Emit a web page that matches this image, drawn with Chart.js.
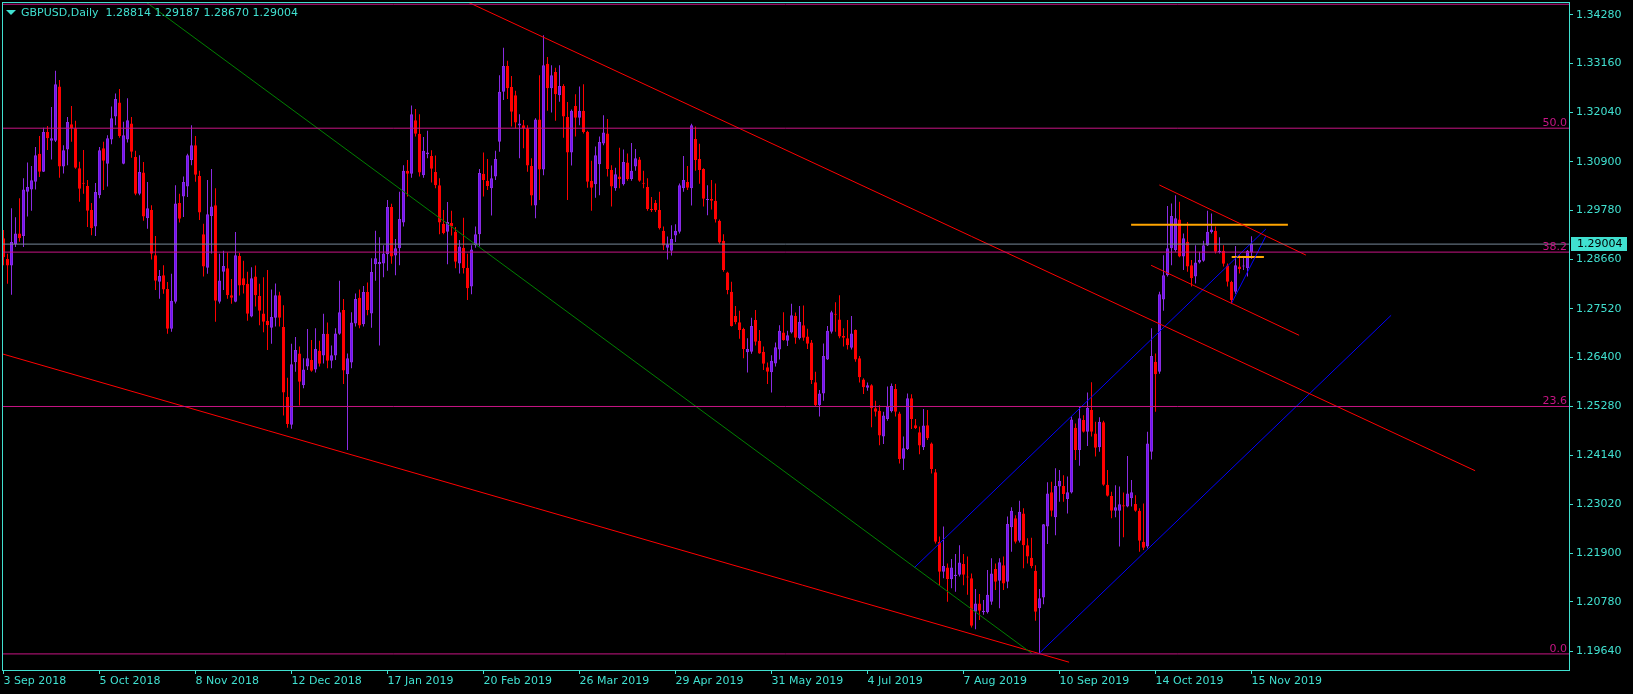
<!DOCTYPE html>
<html>
<head>
<meta charset="utf-8">
<title>GBPUSD,Daily</title>
<script src="https://cdn.jsdelivr.net/npm/chart.js@4.4.1/dist/chart.umd.min.js"></script>
<style>
  html, body { margin: 0; padding: 0; background: #000; }
  canvas { display: block; background: #000; }
</style>
</head>
<body>
<canvas id="chart" width="1633" height="694"></canvas>
<script>
const symbol = "GBPUSD,Daily";

// date labels, one every 24 daily bars starting 3 Sep 2018
const tickLabels = ["3 Sep 2018", "5 Oct 2018", "8 Nov 2018", "12 Dec 2018", "17 Jan 2019", "20 Feb 2019",
  "26 Mar 2019", "29 Apr 2019", "31 May 2019", "4 Jul 2019", "7 Aug 2019", "10 Sep 2019", "14 Oct 2019", "15 Nov 2019"];
const tickStep = 24;

const priceTicks = [1.19640, 1.20780, 1.21900, 1.23020, 1.24140, 1.25280, 1.26400,
  1.27520, 1.28660, 1.29780, 1.30900, 1.32040, 1.33160, 1.34280];

const opens = [
  1.2914, 1.2866, 1.2851, 1.2900, 1.2925, 1.2919, 1.3021, 1.3026, 1.3044, 1.3108,
  1.3067, 1.3158, 1.3138, 1.3138, 1.3263, 1.3079, 1.3118, 1.3176, 1.3167, 1.3075,
  1.3041, 1.3034, 1.2979, 1.2941, 1.3013, 1.3121, 1.3085, 1.3141, 1.3194, 1.3226,
  1.3085, 1.3141, 1.3178, 1.3101, 1.3016, 1.3065, 1.2960, 1.2979, 1.2875, 1.2814,
  1.2829, 1.2797, 1.2706, 1.2768, 1.2995, 1.3010, 1.3033, 1.3094, 1.3128, 1.3057,
  1.2923, 1.2846, 1.2965, 1.2990, 1.2768, 1.2837, 1.2845, 1.2783, 1.2768, 1.2873,
  1.2822, 1.2809, 1.2734, 1.2826, 1.2781, 1.2741, 1.2724, 1.2708, 1.2731, 1.2783,
  1.2710, 1.2549, 1.2485, 1.2629, 1.2649, 1.2576, 1.2619, 1.2634, 1.2612, 1.2655,
  1.2644, 1.2694, 1.2632, 1.2644, 1.2694, 1.2749, 1.2601, 1.2628, 1.2718, 1.2777,
  1.2716, 1.2790, 1.2741, 1.2854, 1.2854, 1.2856, 1.2877, 1.2986, 1.2874, 1.2891,
  1.2950, 1.3069, 1.3062, 1.3185, 1.3154, 1.3059, 1.3107, 1.3103, 1.3066, 1.3036,
  1.2947, 1.2929, 1.2949, 1.2929, 1.2856, 1.2892, 1.2846, 1.2803, 1.2898, 1.2923,
  1.3062, 1.3046, 1.3029, 1.3056, 1.3136, 1.3251, 1.3310, 1.3262, 1.3243, 1.3173,
  1.3174, 1.3167, 1.3080, 1.2989, 1.3187, 1.3072, 1.3315, 1.3259, 1.3296, 1.3243,
  1.3264, 1.3193, 1.3111, 1.3218, 1.3191, 1.3207, 1.3159, 1.3046, 1.3038, 1.3084,
  1.3132, 1.3155, 1.3071, 1.3029, 1.3056, 1.3038, 1.3088, 1.3050, 1.3079, 1.3095,
  1.3041, 1.3032, 1.2981, 1.2995, 1.2979, 1.2931, 1.2892, 1.2885, 1.2920, 1.2929,
  1.3029, 1.3043, 1.3029, 1.3142, 1.3096, 1.3073, 1.3002, 1.3004, 1.3000, 1.2954,
  1.2908, 1.2835, 1.2791, 1.2735, 1.2721, 1.2705, 1.2652, 1.2653, 1.2726, 1.2678,
  1.2653, 1.2617, 1.2606, 1.2626, 1.2658, 1.2697, 1.2678, 1.2697, 1.2735, 1.2684,
  1.2714, 1.2688, 1.2674, 1.2583, 1.2530, 1.2557, 1.2635, 1.2699, 1.2740, 1.2727,
  1.2689, 1.2684, 1.2662, 1.2703, 1.2638, 1.2589, 1.2570, 1.2576, 1.2523, 1.2517,
  1.2458, 1.2498, 1.2516, 1.2567, 1.2511, 1.2407, 1.2429, 1.2546, 1.2484, 1.2468,
  1.2433, 1.2484, 1.2442, 1.2376, 1.2216, 1.2147, 1.2157, 1.2130, 1.2137, 1.2140,
  1.2165, 1.2136, 1.2132, 1.2055, 1.2074, 1.2054, 1.2054, 1.2078, 1.2153, 1.2126,
  1.2162, 1.2124, 1.2249, 1.2270, 1.2218, 1.2281, 1.2208, 1.2179, 1.2149, 1.2063,
  1.2088, 1.2251, 1.2330, 1.2272, 1.2343, 1.2344, 1.2314, 1.2329, 1.2478, 1.2427,
  1.2496, 1.2469, 1.2519, 1.2465, 1.2433, 1.2491, 1.2347, 1.2321, 1.2287, 1.2287,
  1.2300, 1.2297, 1.2316, 1.2303, 1.2287, 1.2216, 1.2205, 1.2423, 1.2630, 1.2607,
  1.2773, 1.2829, 1.2891, 1.2887, 1.2957, 1.2872, 1.2906, 1.2852, 1.2826, 1.2858,
  1.2862, 1.2897, 1.2928, 1.2931, 1.2882, 1.2885, 1.2851, 1.2813, 1.2791, 1.2849,
  1.2849, 1.2845, 1.28814
];
const highs = [
  1.2933, 1.2878, 1.2983, 1.2962, 1.3006, 1.3052, 1.3088, 1.3080, 1.3124, 1.3149,
  1.3168, 1.3172, 1.3216, 1.3299, 1.3278, 1.3128, 1.3193, 1.3218, 1.3184, 1.3090,
  1.3117, 1.3048, 1.2995, 1.3041, 1.3124, 1.3136, 1.3151, 1.3217, 1.3247, 1.3257,
  1.3182, 1.3236, 1.3193, 1.3115, 1.3105, 1.3089, 1.3043, 1.2990, 1.2919, 1.2841,
  1.2852, 1.2813, 1.2832, 1.3036, 1.3016, 1.3056, 1.3108, 1.3174, 1.3149, 1.3069,
  1.2947, 1.3048, 1.3073, 1.3029, 1.2878, 1.2885, 1.2881, 1.2820, 1.2928, 1.2880,
  1.2862, 1.2837, 1.2847, 1.2851, 1.2809, 1.2824, 1.2841, 1.2796, 1.2810, 1.2791,
  1.2760, 1.2593, 1.2671, 1.2687, 1.2665, 1.2638, 1.2705, 1.2680, 1.2707, 1.2678,
  1.2740, 1.2720, 1.2667, 1.2707, 1.2816, 1.2774, 1.2649, 1.2744, 1.2787, 1.2796,
  1.2804, 1.2812, 1.2868, 1.2931, 1.2916, 1.2898, 1.3002, 1.2993, 1.2912, 1.3021,
  1.3082, 1.3094, 1.3219, 1.3211, 1.3199, 1.3147, 1.3161, 1.3116, 1.3104, 1.3052,
  1.2979, 1.2997, 1.2977, 1.2940, 1.2910, 1.2961, 1.2878, 1.2898, 1.2941, 1.3073,
  1.3111, 1.3096, 1.3081, 1.3115, 1.3289, 1.3352, 1.3322, 1.3287, 1.3253, 1.3199,
  1.3186, 1.3174, 1.3098, 1.3190, 1.3289, 1.3381, 1.3331, 1.3312, 1.3306, 1.3312,
  1.3268, 1.3227, 1.3210, 1.3245, 1.3263, 1.3268, 1.3161, 1.3092, 1.3125, 1.3148,
  1.3197, 1.3188, 1.3082, 1.3076, 1.3122, 1.3118, 1.3109, 1.3133, 1.3119, 1.3101,
  1.3069, 1.3052, 1.3009, 1.3002, 1.3021, 1.2941, 1.2918, 1.2944, 1.2946, 1.3040,
  1.3103, 1.3080, 1.3177, 1.3171, 1.3131, 1.3075, 1.3036, 1.3048, 1.3040, 1.2957,
  1.2923, 1.2837, 1.2814, 1.2758, 1.2747, 1.2708, 1.2684, 1.2731, 1.2749, 1.2703,
  1.2665, 1.2628, 1.2645, 1.2674, 1.2714, 1.2744, 1.2701, 1.2763, 1.2743, 1.2758,
  1.2759, 1.2706, 1.2680, 1.2607, 1.2565, 1.2672, 1.2712, 1.2747, 1.2767, 1.2783,
  1.2707, 1.2726, 1.2735, 1.2704, 1.2643, 1.2592, 1.2582, 1.2578, 1.2540, 1.2530,
  1.2515, 1.2573, 1.2580, 1.2579, 1.2515, 1.2458, 1.2557, 1.2555, 1.2498, 1.2481,
  1.2521, 1.2519, 1.2444, 1.2383, 1.2228, 1.2251, 1.2166, 1.2176, 1.2188, 1.2208,
  1.2188, 1.2182, 1.2143, 1.2107, 1.2096, 1.2082, 1.2151, 1.2178, 1.2166, 1.2178,
  1.2182, 1.2274, 1.2295, 1.2277, 1.2310, 1.2293, 1.2224, 1.2225, 1.2162, 1.2107,
  1.2257, 1.2353, 1.2354, 1.2385, 1.2381, 1.2369, 1.2366, 1.2504, 1.2488, 1.2527,
  1.2507, 1.2559, 1.2583, 1.2492, 1.2502, 1.2494, 1.2381, 1.2331, 1.2346, 1.2343,
  1.2329, 1.2413, 1.2358, 1.2323, 1.2293, 1.2304, 1.2469, 1.2707, 1.2649, 1.2791,
  1.2875, 1.2988, 1.2994, 1.3013, 1.2998, 1.2925, 1.2951, 1.2864, 1.2898, 1.2883,
  1.2908, 1.2977, 1.2971, 1.2941, 1.2916, 1.2898, 1.2856, 1.2816, 1.2896, 1.2875,
  1.2872, 1.2887, 1.29187
];
const lows = [
  1.2852, 1.2809, 1.2784, 1.2894, 1.2906, 1.2894, 1.2964, 1.2977, 1.3026, 1.3055,
  1.3066, 1.3117, 1.3095, 1.3135, 1.3053, 1.3063, 1.3082, 1.3136, 1.3074, 1.2998,
  1.3016, 1.2940, 1.2921, 1.2919, 1.3006, 1.3025, 1.3033, 1.3130, 1.3174, 1.3145,
  1.3084, 1.3134, 1.3099, 1.3013, 1.3013, 1.2954, 1.2936, 1.2865, 1.2795, 1.2775,
  1.2786, 1.2694, 1.2699, 1.2764, 1.2950, 1.2963, 1.3009, 1.3082, 1.3044, 1.2956,
  1.2826, 1.2832, 1.2879, 1.2722, 1.2764, 1.2795, 1.2775, 1.2763, 1.2767, 1.2782,
  1.2787, 1.2724, 1.2732, 1.2757, 1.2714, 1.2698, 1.2657, 1.2671, 1.2711, 1.2711,
  1.2506, 1.2478, 1.2476, 1.2607, 1.2529, 1.2569, 1.2611, 1.2607, 1.2605, 1.2619,
  1.2626, 1.2615, 1.2615, 1.2634, 1.2692, 1.2579, 1.2427, 1.2615, 1.2711, 1.2707,
  1.2711, 1.2737, 1.2708, 1.2816, 1.2667, 1.2824, 1.2839, 1.2855, 1.2829, 1.2852,
  1.2941, 1.3010, 1.3053, 1.3148, 1.3056, 1.3053, 1.3098, 1.3042, 1.3029, 1.2923,
  1.2923, 1.2854, 1.2920, 1.2845, 1.2833, 1.2833, 1.2772, 1.2785, 1.2892, 1.2895,
  1.3010, 1.3025, 1.2966, 1.3048, 1.3113, 1.3232, 1.3234, 1.3171, 1.3167, 1.3098,
  1.3121, 1.3067, 1.2989, 1.2960, 1.3002, 1.3059, 1.3207, 1.3203, 1.3184, 1.3228,
  1.3145, 1.3002, 1.3081, 1.3148, 1.3174, 1.3155, 1.3030, 1.2977, 1.3007, 1.3013,
  1.3128, 1.3056, 1.2987, 1.3023, 1.3029, 1.3035, 1.3046, 1.3046, 1.3069, 1.3044,
  1.3029, 1.2977, 1.2974, 1.2974, 1.2934, 1.2887, 1.2865, 1.2874, 1.2905, 1.2925,
  1.3021, 1.3025, 1.2989, 1.3069, 1.3039, 1.2987, 1.2967, 1.2980, 1.2950, 1.2901,
  1.2837, 1.2785, 1.2711, 1.2716, 1.2683, 1.2638, 1.2605, 1.2648, 1.2667, 1.2648,
  1.2611, 1.2579, 1.2559, 1.2619, 1.2635, 1.2678, 1.2666, 1.2695, 1.2671, 1.2681,
  1.2678, 1.2659, 1.2579, 1.2528, 1.2504, 1.2540, 1.2634, 1.2695, 1.2699, 1.2684,
  1.2665, 1.2658, 1.2658, 1.2630, 1.2582, 1.2556, 1.2563, 1.2479, 1.2504, 1.2438,
  1.2441, 1.2494, 1.2513, 1.2504, 1.2396, 1.2381, 1.2427, 1.2475, 1.2475, 1.2417,
  1.2427, 1.2450, 1.2373, 1.2212, 1.2116, 1.2132, 1.2078, 1.2109, 1.2101, 1.2136,
  1.2116, 1.2094, 1.2019, 1.2015, 1.2036, 1.2048, 1.2051, 1.2071, 1.2105, 1.2063,
  1.2105, 1.2109, 1.2193, 1.2212, 1.2214, 1.2155, 1.2166, 1.2155, 1.2034, 1.1959,
  1.2072, 1.2211, 1.2274, 1.2231, 1.2308, 1.2308, 1.2281, 1.2327, 1.2404, 1.2391,
  1.2467, 1.2436, 1.2458, 1.2412, 1.2423, 1.2345, 1.2320, 1.2270, 1.2272, 1.2205,
  1.2226, 1.2295, 1.2297, 1.2285, 1.2193, 1.2197, 1.2201, 1.2405, 1.2515, 1.2602,
  1.2747, 1.2826, 1.2852, 1.2883, 1.2870, 1.2841, 1.2837, 1.2803, 1.2810, 1.2856,
  1.2860, 1.2896, 1.2925, 1.2879, 1.2879, 1.2849, 1.2803, 1.2764, 1.2786, 1.2833,
  1.2841, 1.2826, 1.28670
];
const closes = [
  1.2870, 1.2851, 1.2905, 1.2925, 1.2914, 1.3026, 1.3032, 1.3047, 1.3105, 1.3067,
  1.3158, 1.3144, 1.3144, 1.3268, 1.3079, 1.3116, 1.3181, 1.3167, 1.3076, 1.3028,
  1.3039, 1.2977, 1.2937, 1.3020, 1.3116, 1.3092, 1.3144, 1.3190, 1.3234, 1.3149,
  1.3151, 1.3185, 1.3113, 1.3016, 1.3066, 1.2964, 1.2983, 1.2878, 1.2816, 1.2827,
  1.2796, 1.2706, 1.2770, 1.2994, 1.2959, 1.3043, 1.3105, 1.3128, 1.3060, 1.2973,
  1.2849, 1.2969, 1.2987, 1.2770, 1.2817, 1.2850, 1.2783, 1.2777, 1.2875, 1.2805,
  1.2806, 1.2740, 1.2822, 1.2783, 1.2747, 1.2722, 1.2714, 1.2733, 1.2783, 1.2731,
  1.2559, 1.2487, 1.2624, 1.2657, 1.2584, 1.2612, 1.2638, 1.2609, 1.2659, 1.2625,
  1.2694, 1.2632, 1.2645, 1.2695, 1.2744, 1.2610, 1.2638, 1.2720, 1.2774, 1.2713,
  1.2790, 1.2749, 1.2836, 1.2868, 1.2859, 1.2879, 1.2986, 1.2872, 1.2891, 1.2958,
  1.3069, 1.3062, 1.3199, 1.3154, 1.3065, 1.3115, 1.3111, 1.3074, 1.3036, 1.2950,
  1.2926, 1.2951, 1.2941, 1.2860, 1.2895, 1.2845, 1.2799, 1.2888, 1.2923, 1.3064,
  1.3048, 1.3034, 1.3052, 1.3096, 1.3251, 1.3310, 1.3259, 1.3205, 1.3180, 1.3178,
  1.3167, 1.3081, 1.3012, 1.3187, 1.3072, 1.3312, 1.3259, 1.3289, 1.3245, 1.3264,
  1.3194, 1.3111, 1.3207, 1.3191, 1.3207, 1.3158, 1.3044, 1.3030, 1.3105, 1.3135,
  1.3157, 1.3073, 1.3033, 1.3061, 1.3050, 1.3089, 1.3050, 1.3069, 1.3098, 1.3046,
  1.3039, 1.2981, 1.2978, 1.2978, 1.2937, 1.2897, 1.2900, 1.2912, 1.2931, 1.3036,
  1.3048, 1.3030, 1.3174, 1.3094, 1.3071, 1.3005, 1.3004, 1.3000, 1.2957, 1.2904,
  1.2841, 1.2795, 1.2712, 1.2721, 1.2703, 1.2659, 1.2659, 1.2712, 1.2676, 1.2649,
  1.2625, 1.2607, 1.2632, 1.2663, 1.2701, 1.2680, 1.2691, 1.2737, 1.2685, 1.2722,
  1.2685, 1.2671, 1.2588, 1.2530, 1.2557, 1.2643, 1.2701, 1.2744, 1.2738, 1.2688,
  1.2685, 1.2668, 1.2695, 1.2635, 1.2594, 1.2571, 1.2576, 1.2523, 1.2515, 1.2460,
  1.2506, 1.2527, 1.2574, 1.2515, 1.2406, 1.2431, 1.2546, 1.2498, 1.2477, 1.2437,
  1.2483, 1.2454, 1.2383, 1.2216, 1.2147, 1.2160, 1.2130, 1.2157, 1.2140, 1.2168,
  1.2140, 1.2134, 1.2023, 1.2074, 1.2057, 1.2057, 1.2094, 1.2143, 1.2124, 1.2169,
  1.2120, 1.2257, 1.2287, 1.2216, 1.2285, 1.2208, 1.2182, 1.2160, 1.2055, 1.2086,
  1.2256, 1.2327, 1.2287, 1.2344, 1.2356, 1.2326, 1.2330, 1.2497, 1.2427, 1.2500,
  1.2469, 1.2524, 1.2469, 1.2432, 1.2492, 1.2347, 1.2322, 1.2287, 1.2295, 1.2302,
  1.2297, 1.2327, 1.2330, 1.2287, 1.2218, 1.2202, 1.2442, 1.2643, 1.2601, 1.2785,
  1.2829, 1.2891, 1.2965, 1.2960, 1.2872, 1.2914, 1.2849, 1.2822, 1.2858, 1.2864,
  1.2898, 1.2929, 1.2934, 1.2883, 1.2885, 1.2855, 1.2814, 1.2772, 1.2852, 1.2843,
  1.2850, 1.2885, 1.29004
];

// fibonacci retracement levels
const fibLevels = ["0.0", "23.6", "38.2", "50.0", "61.8"];
const fibPrices = [1.1958, 1.2527, 1.2882, 1.3167, 1.3452];

// drawn objects: [bar index, price] end points
const greenLine = [[35.6, 1.34572], [257.1, 1.1959]];
const redLines = [
  [[116.05, 1.34572], [367.9, 1.23793]],
  [[-0.375, 1.26482], [266.4, 1.19389]],
  [[286.9, 1.28517], [323.9, 1.26907]],
  [[288.95, 1.30364], [325.6, 1.28752]]
];
const blueLines = [
  [[227.7, 1.21563], [315.6, 1.29352]],
  [[258.95, 1.19594], [346.9, 1.27367]],
  [[307.0, 1.27643], [315.6, 1.29191]]
];
const orangeLines = [
  [[281.9, 1.2945], [321.1, 1.2945]],
  [[307.05, 1.2871], [315.1, 1.2871]]
];

// visible range: 392 bar slots (chart shifted), price window
const xRange = [-0.375, 391.375];
const yRange = [1.19210, 1.34572];

const FG = "#40E0D0";
const BULL = "#8A2BE2";
const BULL_FILL = "#6A10F5";
const BEAR = "#FF0000";
const FIB = "#C71585";

Chart.defaults.font.family = "'DejaVu Sans'";
Chart.defaults.font.size = 11;

const idx = opens.map((_, i) => i);
const isUp = idx.map(i => closes[i] >= opens[i]);
const last = opens.length - 1;

function seg(points, color, width) {
  return {
    type: "line",
    data: points.map(p => ({ x: p[0], y: p[1] })),
    borderColor: color,
    borderWidth: width,
    pointRadius: 0,
    fill: false,
    tension: 0,
    order: 1
  };
}

const datasets = [
  {
    type: "bar",
    data: idx.map(i => ({ x: i, y: [lows[i], highs[i]] })),
    backgroundColor: isUp.map(u => u ? BULL : BEAR),
    barThickness: 1,
    grouped: false,
    inflateAmount: 0,
    borderWidth: 0,
    order: 11
  },
  {
    type: "bar",
    data: idx.map(i => ({ x: i, y: [opens[i], closes[i]] })),
    backgroundColor: isUp.map(u => u ? BULL_FILL : BEAR),
    borderColor: isUp.map(u => u ? BULL : BEAR),
    borderWidth: 1,
    borderSkipped: false,
    barThickness: 3,
    minBarLength: 1,
    grouped: false,
    inflateAmount: 0,
    order: 10
  }
];
fibPrices.forEach(p => datasets.push(seg([[xRange[0], p], [xRange[1], p]], FIB, 1)));
datasets.push(seg([[xRange[0], closes[last]], [xRange[1], closes[last]]], "#778899", 1));
datasets.push(seg(greenLine, "#008000", 1));
redLines.forEach(l => datasets.push(seg(l, BEAR, 1)));
blueLines.forEach(l => datasets.push(seg(l, "#0000FF", 1)));
orangeLines.forEach(l => datasets.push(seg(l, "#FFA500", 2)));

const overlay = {
  id: "overlay",
  afterDatasetsDraw(chart) {
    const { ctx, chartArea: a, scales: { y } } = chart;
    ctx.save();
    ctx.beginPath();
    ctx.rect(a.left, a.top, a.right - a.left, a.bottom - a.top);
    ctx.clip();
    ctx.font = "11px 'DejaVu Sans'";
    ctx.fillStyle = FIB;
    ctx.textAlign = "right";
    ctx.textBaseline = "alphabetic";
    fibPrices.forEach((p, k) => {
      ctx.fillText(fibLevels[k], a.right - 2, Math.round(y.getPixelForValue(p)) - 2);
    });
    ctx.restore();
  },
  afterDraw(chart) {
    const { ctx, chartArea: a, scales: { y } } = chart;
    ctx.save();
    // frame
    ctx.strokeStyle = FG;
    ctx.lineWidth = 1;
    ctx.strokeRect(a.left + 0.5, a.top + 0.5, a.right - a.left, a.bottom - a.top);

    // header
    ctx.fillStyle = FG;
    ctx.beginPath();
    ctx.moveTo(6, 10);
    ctx.lineTo(16, 10);
    ctx.lineTo(11, 15);
    ctx.closePath();
    ctx.fill();
    ctx.font = "11px 'DejaVu Sans'";
    ctx.textAlign = "left";
    ctx.textBaseline = "middle";
    const ohlc = [opens[last], highs[last], lows[last], closes[last]].map(v => v.toFixed(5)).join(" ");
    ctx.fillText(symbol + "  " + ohlc, 21, 13);

    // last price tag on the price axis
    const py = Math.round(y.getPixelForValue(closes[last]));
    ctx.fillStyle = FG;
    ctx.fillRect(a.right + 2, py - 7, 56, 14);
    ctx.fillStyle = "#000";
    ctx.fillText(closes[last].toFixed(5), a.right + 8, py + 0.5);
    ctx.restore();
  }
};

new Chart(document.getElementById("chart"), {
  type: "bar",
  data: { datasets },
  options: {
    responsive: false,
    animation: false,
    events: [],
    layout: { padding: { left: 2, top: 2, right: 0, bottom: 0 } },
    plugins: { legend: { display: false }, tooltip: { enabled: false } },
    scales: {
      x: {
        type: "linear",
        min: xRange[0],
        max: xRange[1],
        offset: false,
        border: { display: false },
        grid: { drawOnChartArea: false, drawTicks: true, tickLength: 4, color: FG, offset: false },
        ticks: {
          color: FG,
          align: "start",
          maxRotation: 0,
          autoSkip: false,
          padding: 1,
          callback: (v, i) => tickLabels[i]
        },
        afterBuildTicks: s => { s.ticks = tickLabels.map((_, k) => ({ value: k * tickStep })); },
        afterFit: s => { s.height = 24; s.paddingLeft = 0; s.paddingRight = 0; }
      },
      y: {
        type: "linear",
        position: "right",
        min: yRange[0],
        max: yRange[1],
        beginAtZero: false,
        border: { display: false },
        grid: { drawOnChartArea: false, drawTicks: true, tickLength: 4, color: FG },
        ticks: {
          color: FG,
          padding: 3,
          autoSkip: false,
          callback: v => v.toFixed(5)
        },
        afterBuildTicks: s => { s.ticks = priceTicks.map(v => ({ value: v })); },
        afterFit: s => { s.width = 64; s.paddingTop = 0; s.paddingBottom = 0; }
      }
    }
  },
  plugins: [overlay]
});
</script>
</body>
</html>
